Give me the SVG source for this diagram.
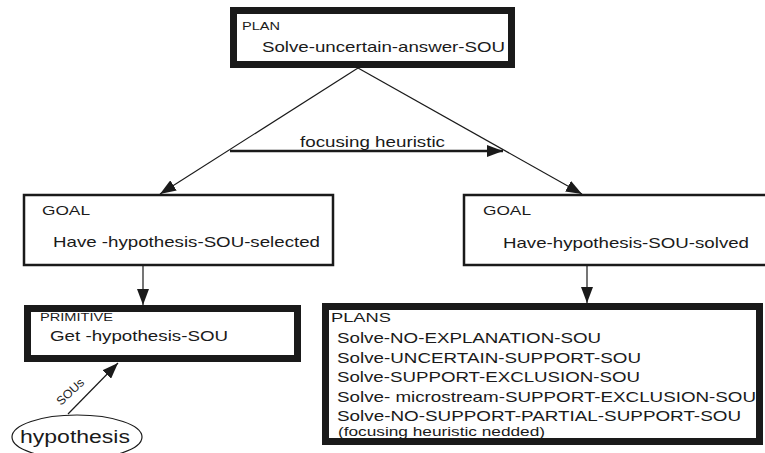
<svg xmlns="http://www.w3.org/2000/svg" width="765" height="453" viewBox="0 0 765 453">
<style>
  text { font-family: "Liberation Sans", Arial, sans-serif; fill: #1a1a1a; }
  .lbl { font-size: 11px; }
  .hdr { font-size: 13px; }
  .main { font-size: 15px; }
  .note { font-size: 13px; }
  .thick { fill: #fff; stroke: #1a1a1a; stroke-width: 7; }
  .thin { fill: #fff; stroke: #1a1a1a; stroke-width: 2.5; }
  .edge { fill: none; stroke: #1a1a1a; stroke-width: 1.2; }
  .edge2 { fill: none; stroke: #1a1a1a; stroke-width: 2.5; }
</style>
<defs>
  <marker id="ah" markerUnits="userSpaceOnUse" markerWidth="16" markerHeight="12" refX="16" refY="6" orient="auto">
    <path d="M0,0 L16,6 L0,12 z" fill="#1a1a1a"/>
  </marker>
</defs>
<rect width="765" height="453" fill="#fff"/>

<g id="connectors">
  <line class="edge" x1="358" y1="68" x2="160" y2="194" marker-end="url(#ah)"/>
  <line class="edge" x1="358" y1="68" x2="582" y2="194" marker-end="url(#ah)"/>
  <line class="edge2" x1="230" y1="151" x2="503" y2="151" marker-end="url(#ah)"/>
  <text class="main" x="300" y="147" textLength="145" lengthAdjust="spacingAndGlyphs">focusing heuristic</text>
  <line class="edge" x1="143" y1="265" x2="143" y2="305" marker-end="url(#ah)"/>
  <line class="edge" x1="587" y1="265" x2="587" y2="303" marker-end="url(#ah)"/>
  <line class="edge" x1="68" y1="414" x2="118" y2="363" marker-end="url(#ah)"/>
  <text transform="translate(61,406) rotate(-43)" style="font-size:12px" textLength="33" lengthAdjust="spacingAndGlyphs">SOUs</text>
</g>

<g id="plan">
  <rect class="thick" x="233.5" y="10.5" width="278" height="54"/>
  <text class="lbl" x="242" y="30" textLength="38" lengthAdjust="spacingAndGlyphs">PLAN</text>
  <text class="main" x="262" y="52" textLength="243" lengthAdjust="spacingAndGlyphs">Solve-uncertain-answer-SOU</text>
</g>

<g id="goal-selected">
  <rect class="thin" x="24" y="195" width="309" height="70"/>
  <text class="hdr" x="42" y="215" textLength="48" lengthAdjust="spacingAndGlyphs">GOAL</text>
  <text class="main" x="53" y="247" textLength="267" lengthAdjust="spacingAndGlyphs">Have -hypothesis-SOU-selected</text>
</g>

<g id="goal-solved">
  <rect class="thin" x="464" y="195" width="303" height="70"/>
  <text class="hdr" x="483" y="215" textLength="48" lengthAdjust="spacingAndGlyphs">GOAL</text>
  <text class="main" x="503" y="248" textLength="246" lengthAdjust="spacingAndGlyphs">Have-hypothesis-SOU-solved</text>
</g>

<g id="primitive">
  <rect class="thick" x="27.5" y="308.5" width="270" height="50"/>
  <text class="lbl" x="40" y="321" textLength="73" lengthAdjust="spacingAndGlyphs">PRIMITIVE</text>
  <text class="main" x="50" y="341" textLength="178" lengthAdjust="spacingAndGlyphs">Get -hypothesis-SOU</text>
</g>

<g id="plans">
  <rect class="thick" x="325.5" y="306.5" width="434" height="135"/>
  <text class="hdr" x="331" y="322" textLength="60" lengthAdjust="spacingAndGlyphs">PLANS</text>
  <text class="main" x="337" y="343" textLength="264" lengthAdjust="spacingAndGlyphs">Solve-NO-EXPLANATION-SOU</text>
  <text class="main" x="337" y="362.5" textLength="304" lengthAdjust="spacingAndGlyphs">Solve-UNCERTAIN-SUPPORT-SOU</text>
  <text class="main" x="337" y="382" textLength="303" lengthAdjust="spacingAndGlyphs">Solve-SUPPORT-EXCLUSION-SOU</text>
  <text class="main" x="337" y="401.5" textLength="419" lengthAdjust="spacingAndGlyphs">Solve- microstream-SUPPORT-EXCLUSION-SOU</text>
  <text class="main" x="337" y="421" textLength="404" lengthAdjust="spacingAndGlyphs">Solve-NO-SUPPORT-PARTIAL-SUPPORT-SOU</text>
  <text class="note" x="338" y="436" textLength="207" lengthAdjust="spacingAndGlyphs">(focusing heuristic nedded)</text>
</g>

<g id="hypothesis">
  <ellipse cx="77" cy="437" rx="65" ry="22" fill="#fff" stroke="#1a1a1a" stroke-width="1.2"/>
  <text x="20" y="443" style="font-size:18px" textLength="110" lengthAdjust="spacingAndGlyphs">hypothesis</text>
</g>
</svg>
